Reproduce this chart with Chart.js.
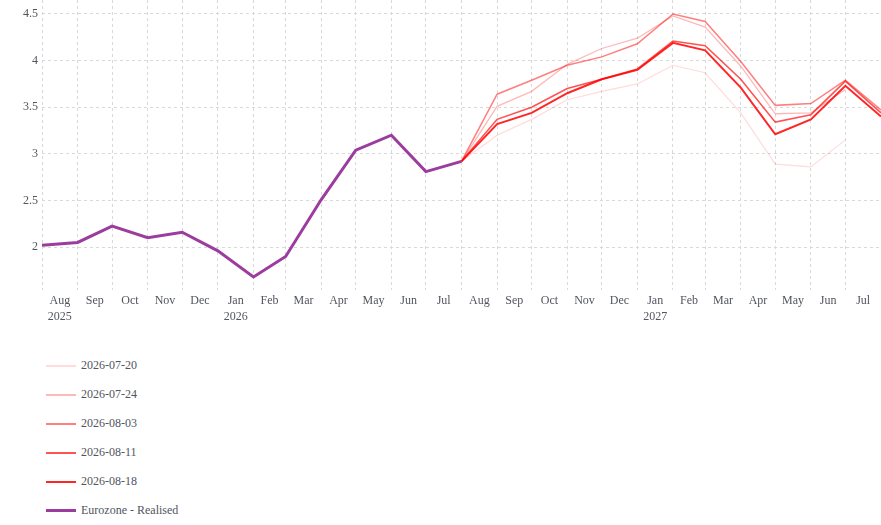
<!DOCTYPE html>
<html>
<head>
<meta charset="utf-8">
<script src="https://cdn.jsdelivr.net/npm/chart.js@4.4.1/dist/chart.umd.min.js"></script>
<style>
  html, body { margin: 0; padding: 0; background: #fff; }
  #wrap { position: absolute; left: 0; top: 0; width: 881px; height: 335px; }
  #legend {
    position: absolute; left: 46px; top: 351px;
    font-family: 'Liberation Serif', 'Times New Roman', serif;
    font-size: 12px; color: #51555e;
  }
  .item { height: 29px; display: flex; align-items: center; }
  .swatch { width: 30px; margin-right: 5px; }
</style>
</head>
<body>
<div id="wrap"><canvas id="chart"></canvas></div>
<div id="legend"></div>
<script>
// first of each month shown on the x axis
const months = [
  '2025-08', '2025-09', '2025-10', '2025-11', '2025-12',
  '2026-01', '2026-02', '2026-03', '2026-04', '2026-05', '2026-06', '2026-07',
  '2026-08', '2026-09', '2026-10', '2026-11', '2026-12',
  '2027-01', '2027-02', '2027-03', '2027-04', '2027-05', '2027-06', '2027-07',
  '2027-08'
];
const monthNames = ['Jan', 'Feb', 'Mar', 'Apr', 'May', 'Jun',
                    'Jul', 'Aug', 'Sep', 'Oct', 'Nov', 'Dec'];
const yTicks = [2, 2.5, 3, 3.5, 4, 4.5];

// realised series, Aug 2025 .. Aug 2026
const realised = [2.02, 2.05, 2.225, 2.10, 2.16, 1.96, 1.68, 1.90, 2.51, 3.04, 3.20, 2.81, 2.92];

// forecasts, all starting at Aug 2026
const forecastFrom = '2026-08';
const forecastDates = ['2026-07-20', '2026-07-24', '2026-08-03', '2026-08-11', '2026-08-18'];
const fc0720 = [2.92, 3.20, 3.37, 3.58, 3.67, 3.75, 3.95, 3.87, 3.44, 2.89, 2.86, 3.15];
const fc0724 = [2.92, 3.51, 3.67, 3.96, 4.13, 4.24, 4.48, 4.36, 3.94, 3.43, 3.44, 3.69];
const fc0803 = [2.92, 3.64, 3.79, 3.95, 4.04, 4.18, 4.50, 4.42, 3.99, 3.52, 3.54, 3.79, 3.47];
const fc0811 = [2.92, 3.37, 3.50, 3.70, 3.80, 3.91, 4.21, 4.16, 3.80, 3.34, 3.42, 3.78, 3.44];
const fc0818 = [2.92, 3.32, 3.44, 3.65, 3.80, 3.90, 4.19, 4.11, 3.71, 3.21, 3.37, 3.73, 3.40];

const forecasts = [fc0720, fc0724, fc0803, fc0811, fc0818];
const forecastColors = ['rgba(255,0,0,0.14)', 'rgba(255,0,0,0.28)', 'rgba(255,0,0,0.5)',
                        'rgba(255,0,0,0.68)', 'rgba(255,0,0,0.85)'];
const forecastWidths = [1.2, 1.3, 1.5, 1.6, 2];

const textColor = '#51555e';
const gridColor = '#d9d9d9';
const font = { family: "'Liberation Serif', 'Times New Roman', serif", size: 12, lineHeight: 1.33 };

// month string -> day number, so month lengths come out right
function dayOf(m) {
  const [y, mo] = m.split('-').map(Number);
  return Date.UTC(y, mo - 1, 1) / 86400000;
}

function toPoints(startMonth, values) {
  const i0 = months.indexOf(startMonth);
  return values.map((v, i) => ({ x: dayOf(months[i0 + i]), y: v }));
}

const datasets = forecastDates.map((d, i) => ({
  label: d,
  data: toPoints(forecastFrom, forecasts[i]),
  borderColor: forecastColors[i],
  borderWidth: forecastWidths[i],
  legendWidth: 2
}));
datasets.push({
  label: 'Eurozone - Realised',
  data: toPoints(months[0], realised),
  borderColor: '#9b3c9e',
  borderWidth: 3,
  legendWidth: 3
});
datasets.forEach((ds, i) => {
  ds.pointRadius = 0;
  ds.tension = 0;
  ds.fill = false;
  ds.order = datasets.length - i;  // later series on top
});

const chart = new Chart(document.getElementById('chart'), {
  type: 'line',
  data: { datasets: datasets },
  options: {
    animation: false,
    responsive: true,
    maintainAspectRatio: false,
    layout: { padding: 0 },
    plugins: { legend: { display: false }, tooltip: { enabled: false } },
    scales: {
      x: {
        type: 'linear',
        min: dayOf(months[0]),
        max: dayOf(months[months.length - 1]),
        afterBuildTicks: (s) => {
          const ticks = [];
          months.forEach((m, i) => {
            ticks.push({ value: dayOf(m), boundary: true, text: '' });
            if (i < months.length - 1) {
              const mo = Number(m.slice(5));
              const name = monthNames[mo - 1];
              const text = (i === 0 || mo === 1) ? [name, m.slice(0, 4)] : name;
              ticks.push({ value: (dayOf(m) + dayOf(months[i + 1])) / 2, boundary: false, text: text });
            }
          });
          s.ticks = ticks;
        },
        afterFit: (s) => { s.height = 45; s.paddingLeft = 0; s.paddingRight = 0; },
        ticks: {
          autoSkip: false, maxRotation: 0, minRotation: 0, padding: 3,
          color: textColor, font: font,
          callback: (v, i, t) => t[i].text
        },
        grid: {
          drawTicks: false,
          color: (ctx) => (ctx.tick && ctx.tick.boundary) ? gridColor : 'rgba(0,0,0,0)'
        },
        border: { display: false, dash: [3, 3] }
      },
      y: {
        min: 1.54,
        max: 4.65,
        afterBuildTicks: (s) => { s.ticks = yTicks.map(v => ({ value: v })); },
        afterFit: (s) => { s.width = 42; s.paddingTop = 0; s.paddingBottom = 0; },
        ticks: { padding: 4, color: textColor, font: font, callback: (v) => String(v) },
        grid: { drawTicks: false, color: gridColor },
        border: { display: false, dash: [3, 3] }
      }
    }
  }
});

// vertical legend under the chart
const legend = document.getElementById('legend');
chart.data.datasets.forEach(ds => {
  const item = document.createElement('div');
  item.className = 'item';
  const sw = document.createElement('div');
  sw.className = 'swatch';
  sw.style.height = ds.legendWidth + 'px';
  sw.style.background = ds.borderColor;
  const txt = document.createElement('span');
  txt.textContent = ds.label;
  item.appendChild(sw);
  item.appendChild(txt);
  legend.appendChild(item);
});
</script>
</body>
</html>
